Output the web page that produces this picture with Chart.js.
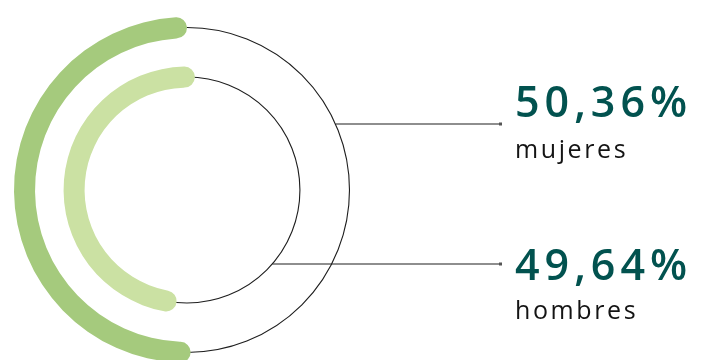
<!DOCTYPE html>
<html>
<head>
<meta charset="utf-8">
<script src="https://cdn.jsdelivr.net/npm/chart.js@4/dist/chart.umd.min.js"></script>
<style>
  html, body { margin: 0; padding: 0; background: #fff; }
  body { width: 704px; height: 360px; overflow: hidden; position: relative; }
  #wrap { position: absolute; left: 0; top: 0; width: 704px; height: 380px; }
  .stat { position: absolute; left: 515px; font-family: "Open Sans", sans-serif; white-space: nowrap; }
  .pct { font-size: 43px; line-height: 43px; font-weight: 600; color: #02524f; letter-spacing: 5px; }
  .lbl { font-size: 25px; line-height: 25px; color: #141414; letter-spacing: 2.6px; }
</style>
</head>
<body>
<div id="wrap"><canvas id="genderChart"></canvas></div>
<div class="stat pct" id="pct0" style="top:79px"></div>
<div class="stat lbl" id="lbl0" style="top:136px"></div>
<div class="stat pct" id="pct1" style="top:242px"></div>
<div class="stat lbl" id="lbl1" style="top:297px"></div>
<script>
const categories = ['mujeres', 'hombres'];
const shares = [50.36, 49.64];
const ringColors = ['#a5ca7d', '#cbe1a3'];
const ringRotation = [0, 4];

function fmtPct(v) {
  return v.toFixed(2).replace('.', ',') + '%';
}

categories.forEach((c, i) => {
  document.getElementById('pct' + i).textContent = fmtPct(shares[i]);
  document.getElementById('lbl' + i).textContent = c;
});

// one ring per category: the share in green, the remainder left as an empty track
function ring(i) {
  return {
    data: [100 - shares[i], shares[i]],
    backgroundColor: ['rgba(0,0,0,0)', ringColors[i]],
    borderWidth: 0,
    borderRadius: [0, 11],
    rotation: ringRotation[i],
    weight: 21
  };
}

// thin dark track along the middle of each ring + horizontal leader to the label
const trackLines = {
  id: 'trackLines',
  beforeDatasetsDraw(chart, args, opts) {
    const ctx = chart.ctx;
    ctx.save();
    ctx.strokeStyle = '#1e1e1e';
    ctx.lineWidth = 1.1;
    opts.rings.forEach(di => {
      const a = chart.getDatasetMeta(di).data[1];
      const r = (a.innerRadius + a.outerRadius) / 2;
      ctx.beginPath();
      ctx.arc(a.x, a.y, r, 0, Math.PI * 2);
      ctx.stroke();
    });
    ctx.restore();
  },
  afterDatasetsDraw(chart, args, opts) {
    const ctx = chart.ctx;
    ctx.save();
    opts.rings.forEach((di, i) => {
      const a = chart.getDatasetMeta(di).data[1];
      const r = (a.innerRadius + a.outerRadius) / 2;
      const y = opts.leaderY[i];
      const x0 = a.x + Math.sqrt(r * r - (y - a.y) * (y - a.y));
      ctx.strokeStyle = '#1e1e1e';
      ctx.lineWidth = 1.1;
      ctx.beginPath();
      ctx.moveTo(x0, y);
      ctx.lineTo(opts.endX, y);
      ctx.stroke();
      ctx.fillStyle = '#555';
      ctx.fillRect(opts.endX - 1, y - 1.5, 3, 3);
    });
    ctx.restore();
  }
};

new Chart(document.getElementById('genderChart'), {
  type: 'doughnut',
  data: {
    labels: ['resto', 'valor'],
    datasets: [
      ring(0),
      { data: [1], backgroundColor: ['rgba(0,0,0,0)'], borderWidth: 0, weight: 28.5 },
      ring(1)
    ]
  },
  options: {
    responsive: true,
    maintainAspectRatio: false,
    animation: false,
    events: [],
    cutout: '59.2%',
    layout: { padding: { left: 14, right: 344, top: 17, bottom: 17 } },
    plugins: {
      legend: { display: false },
      tooltip: { enabled: false },
      trackLines: { rings: [0, 2], leaderY: [124, 264], endX: 500 }
    }
  },
  plugins: [trackLines]
});
</script>
</body>
</html>
